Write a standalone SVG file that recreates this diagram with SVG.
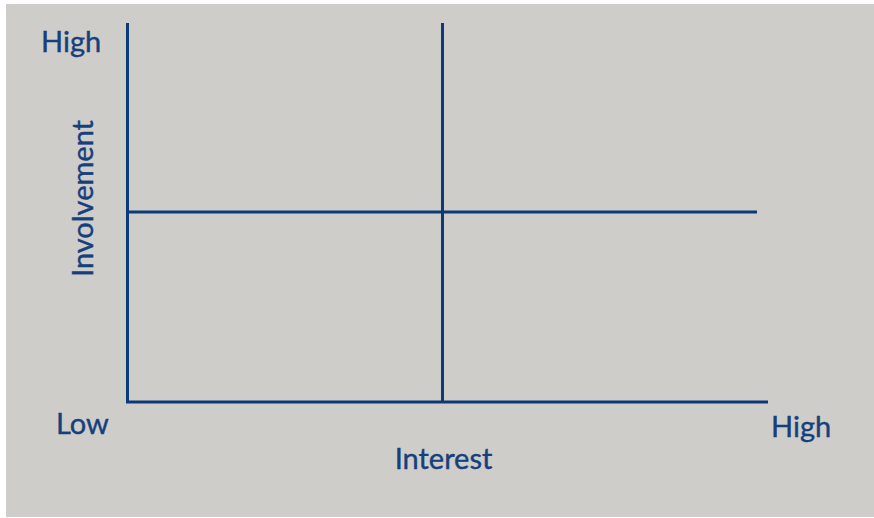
<svg xmlns="http://www.w3.org/2000/svg" width="874" height="518" viewBox="0 0 874 518">
<style>
.ax{stroke:#0c3a78;stroke-width:3;fill:none}
.lb{font-family:Lato,"Open Sans","DejaVu Sans",sans-serif;font-size:29px;fill:#163f7c;stroke:#163f7c;stroke-width:0.4}
</style>
<rect width="874" height="518" fill="#ffffff"/>
<rect x="6" y="4" width="868" height="513" fill="#cecdc9"/>
<g id="connectors">
<line class="ax" x1="127.5" y1="23" x2="127.5" y2="402"/>
<line class="ax" x1="126" y1="402" x2="768" y2="402"/>
<line class="ax" x1="442.5" y1="23" x2="442.5" y2="402"/>
<line class="ax" x1="127.5" y1="212" x2="757" y2="212"/>
</g>
<g id="y-high"><text class="lb" x="41" y="52">High</text></g>
<g id="y-title"><text class="lb" transform="translate(93,198.5) rotate(-90)" text-anchor="middle">Involvement</text></g>
<g id="x-low"><text class="lb" x="56" y="434">Low</text></g>
<g id="x-title"><text class="lb" x="443.5" y="469" text-anchor="middle">Interest</text></g>
<g id="x-high"><text class="lb" x="771" y="437">High</text></g>
</svg>
